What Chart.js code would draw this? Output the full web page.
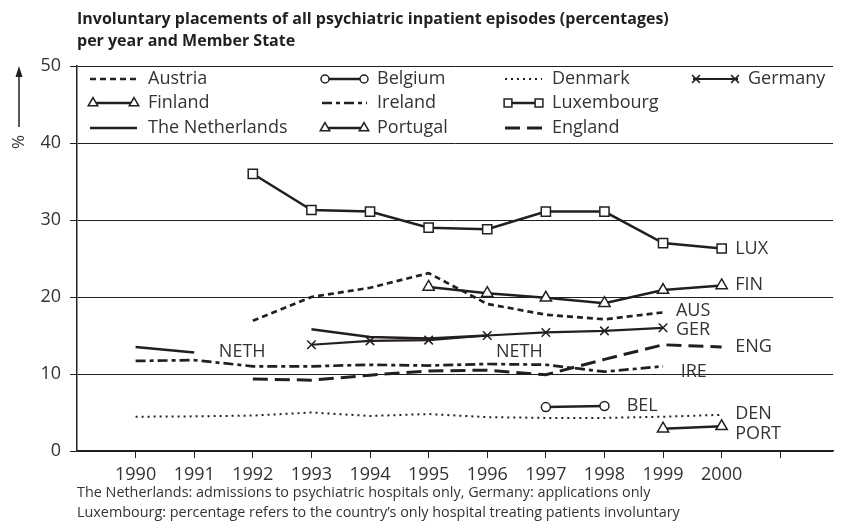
<!DOCTYPE html>
<html>
<head>
<meta charset="utf-8">
<script src="https://cdn.jsdelivr.net/npm/chart.js@4.4.1/dist/chart.umd.min.js"></script>
<style>
  body { margin: 0; background: #fff; }
  #wrap { position: relative; width: 841px; height: 528px; font-family: "Open Sans", sans-serif; color: #231f20; }
  #chart { position: absolute; left: 0; top: 0; }
  #title { position: absolute; left: 77px; top: 7px; font-weight: bold; font-size: 16px; line-height: 22px; }
  #notes { position: absolute; left: 77px; top: 482px; font-size: 14.4px; line-height: 20px; color: #333; }
</style>
</head>
<body>
<div id="wrap">
  <canvas id="chart" width="841" height="528"></canvas>
  <div id="title">Involuntary placements of all psychiatric inpatient episodes (percentages)<br>per year and Member State</div>
  <div id="notes">The Netherlands: admissions to psychiatric hospitals only, Germany: applications only<br>Luxembourg: percentage refers to the country’s only hospital treating patients involuntary</div>
</div>
<script>
// years on the x axis
const years = [1990, 1991, 1992, 1993, 1994, 1995, 1996, 1997, 1998, 1999, 2000];
const xTickValues = [1990, 1991, 1992, 1993, 1994, 1995, 1996, 1997, 1998, 1999, 2000, 2001];
const yTickValues = [0, 10, 20, 30, 40, 50];

// percentages per country (null = no data)
const austria = [null, null, 16.9, 20.0, 21.2, 23.1, 19.1, 17.7, 17.1, 18.0, null];
const belgium = [null, null, null, null, null, null, null, 5.7, 5.85, null, null];
const denmark = [4.45, 4.5, 4.6, 5.0, 4.55, 4.8, 4.4, 4.3, 4.3, 4.45, 4.7];
const germany = [null, null, null, 13.8, 14.3, 14.4, 15.0, 15.4, 15.6, 16.0, null];
const finland = [null, null, null, null, null, 21.3, 20.5, 19.9, 19.2, 20.9, 21.5];
const ireland = [11.7, 11.8, 11.0, 11.0, 11.2, 11.1, 11.3, 11.2, 10.3, 11.0, null];
const luxembourg = [null, null, 36.0, 31.3, 31.1, 29.0, 28.8, 31.1, 31.1, 27.0, 26.3];
const netherlands = [13.5, 12.8, null, 15.8, 14.8, 14.6, 15.0, null, null, null, null];
const portugal = [null, null, null, null, null, null, null, null, null, 2.9, 3.2];
const england = [null, null, 9.35, 9.2, 9.85, 10.4, 10.5, 9.9, 11.9, 13.8, 13.5];

const countryNames = ["Austria", "Belgium", "Denmark", "Germany", "Finland", "Ireland",
  "Luxembourg", "The Netherlands", "Portugal", "England"];

// short labels written next to the lines
const lineTags = [
  { text: "LUX", x: 2000.23, y: 26.2 },
  { text: "FIN", x: 2000.23, y: 21.55 },
  { text: "AUS", x: 1999.22, y: 18.2 },
  { text: "GER", x: 1999.22, y: 15.7 },
  { text: "ENG", x: 2000.23, y: 13.5 },
  { text: "IRE", x: 1999.3, y: 10.25 },
  { text: "NETH", x: 1991.42, y: 12.85 },
  { text: "NETH", x: 1996.15, y: 12.85 },
  { text: "BEL", x: 1998.38, y: 5.85 },
  { text: "DEN", x: 2000.23, y: 4.8 },
  { text: "PORT", x: 2000.23, y: 2.2 },
];

const INK = "#231f20";

function toPoints(values) {
  return years.map((yr, i) => ({ x: yr, y: values[i] }));
}

// line style per series
function series(label, values, style) {
  return Object.assign({
    label: label,
    data: toPoints(values),
    borderColor: INK,
    backgroundColor: "#fff",
    borderWidth: 2.5,
    borderDash: [],
    pointRadius: 0,
    pointStyle: false,
    pointBorderColor: INK,
    pointBackgroundColor: "#fff",
    pointBorderWidth: 1.5,
    tension: 0,
    spanGaps: false,
  }, style);
}

const datasets = [
  series(countryNames[0], austria, { borderDash: [6, 4], borderWidth: 2.7 }),
  series(countryNames[1], belgium, { pointStyle: "circle", pointRadius: 4.5 }),
  series(countryNames[2], denmark, { borderDash: [2, 4], borderWidth: 2 }),
  series(countryNames[3], germany, { pointStyle: "crossRot", pointRadius: 6, borderWidth: 2.2 }),
  series(countryNames[4], finland, { pointStyle: "triangle", pointRadius: 6.5 }),
  series(countryNames[5], ireland, { borderDash: [10, 4, 4, 4], borderWidth: 2.7 }),
  series(countryNames[6], luxembourg, { pointStyle: "rect", pointRadius: 6.5 }),
  series(countryNames[7], netherlands, {}),
  series(countryNames[8], portugal, { pointStyle: "triangle", pointRadius: 6.5 }),
  series(countryNames[9], england, { borderDash: [15, 7], borderWidth: 3 }),
];

/******************** legend, line tags and the % arrow ********************/
const legendCols = [
  { from: 90, to: 137, text: 148 },
  { from: 322, to: 367, text: 377 },
  { from: 505, to: 542, text: 552 },
  { from: 693, to: 738, text: 748 },
];
const legendRows = [79, 103, 128];
// [column, row] for each dataset, same order as above
const legendSlots = [[0, 0], [1, 0], [2, 0], [3, 0], [0, 1], [1, 1], [2, 1], [0, 2], [1, 2], [2, 2]];

function drawMarker(ctx, ds, x, y, r) {
  if (!ds.pointStyle) return;
  ctx.save();
  ctx.setLineDash([]);
  ctx.strokeStyle = INK;
  ctx.fillStyle = "#fff";
  ctx.lineWidth = 1.5;
  Chart.helpers.drawPoint(ctx, { pointStyle: ds.pointStyle, rotation: 0, radius: r, borderWidth: 1.5 }, x, y);
  ctx.restore();
}

const decorPlugin = {
  id: "decor",
  afterDraw(chart) {
    const ctx = chart.ctx;
    const xs = chart.scales.x;
    const ys = chart.scales.y;

    // legend inside the plot
    chart.data.datasets.forEach((ds, i) => {
      const col = legendCols[legendSlots[i][0]];
      const y = legendRows[legendSlots[i][1]];
      ctx.save();
      ctx.strokeStyle = INK;
      ctx.lineWidth = ds.borderWidth;
      ctx.setLineDash(ds.borderDash);
      ctx.beginPath();
      ctx.moveTo(col.from, y);
      ctx.lineTo(col.to, y);
      ctx.stroke();
      ctx.restore();
      const r = ds.pointStyle === "circle" ? 4 : 5.5;
      drawMarker(ctx, ds, col.from + 3, y, r);
      drawMarker(ctx, ds, col.to - 3, y, r);
      ctx.save();
      ctx.fillStyle = "#333";
      ctx.font = '18px "Open Sans"';
      ctx.textBaseline = "middle";
      ctx.textAlign = "left";
      ctx.fillText(ds.label, col.text, y);
      ctx.restore();
    });

    // tags next to the lines
    ctx.save();
    ctx.fillStyle = "#333";
    ctx.font = '18px "Open Sans"';
    ctx.textBaseline = "middle";
    ctx.textAlign = "left";
    lineTags.forEach((t) => {
      ctx.fillText(t.text, xs.getPixelForValue(t.x), ys.getPixelForValue(t.y));
    });
    ctx.restore();

    // vertical arrow with the % sign
    ctx.save();
    ctx.strokeStyle = INK;
    ctx.fillStyle = INK;
    ctx.lineWidth = 1.5;
    ctx.beginPath();
    ctx.moveTo(19, 127);
    ctx.lineTo(19, 74);
    ctx.stroke();
    ctx.beginPath();
    ctx.moveTo(19, 66);
    ctx.lineTo(15.5, 77);
    ctx.lineTo(22.5, 77);
    ctx.closePath();
    ctx.fill();
    ctx.translate(19, 142);
    ctx.rotate(-Math.PI / 2);
    ctx.fillStyle = "#333";
    ctx.font = '17px "Open Sans"';
    ctx.textAlign = "center";
    ctx.textBaseline = "middle";
    ctx.fillText("%", 0, 0);
    ctx.restore();
  },
};

new Chart(document.getElementById("chart"), {
  type: "line",
  data: { datasets: datasets },
  options: {
    responsive: false,
    animation: false,
    layout: { padding: { top: 66, left: 0, right: 0, bottom: 0 } },
    plugins: {
      legend: { display: false },
      tooltip: { enabled: false },
    },
    scales: {
      x: {
        type: "linear",
        min: 1989,
        max: 2001.9,
        afterFit: (scale) => { scale.height = 77; },
        afterBuildTicks: (scale) => { scale.ticks = xTickValues.map((v) => ({ value: v })); },
        grid: { drawOnChartArea: false, drawTicks: true, tickLength: 7, color: INK, lineWidth: 1 },
        border: { display: true, color: INK, width: 1.5 },
        ticks: {
          autoSkip: false,
          maxRotation: 0,
          padding: 6,
          color: "#333",
          font: { family: "Open Sans", size: 18 },
          callback: (v) => (years.includes(v) ? String(v) : ""),
        },
      },
      y: {
        min: 0,
        max: 50,
        afterFit: (scale) => { scale.width = 77; },
        afterBuildTicks: (scale) => { scale.ticks = yTickValues.map((v) => ({ value: v })); },
        grid: { drawTicks: true, tickLength: 7, color: INK, lineWidth: 1 },
        border: { display: true, color: INK, width: 1.5 },
        ticks: {
          padding: 9,
          color: "#333",
          font: { family: "Open Sans", size: 18 },
        },
      },
    },
  },
  plugins: [decorPlugin],
});
</script>
</body>
</html>
